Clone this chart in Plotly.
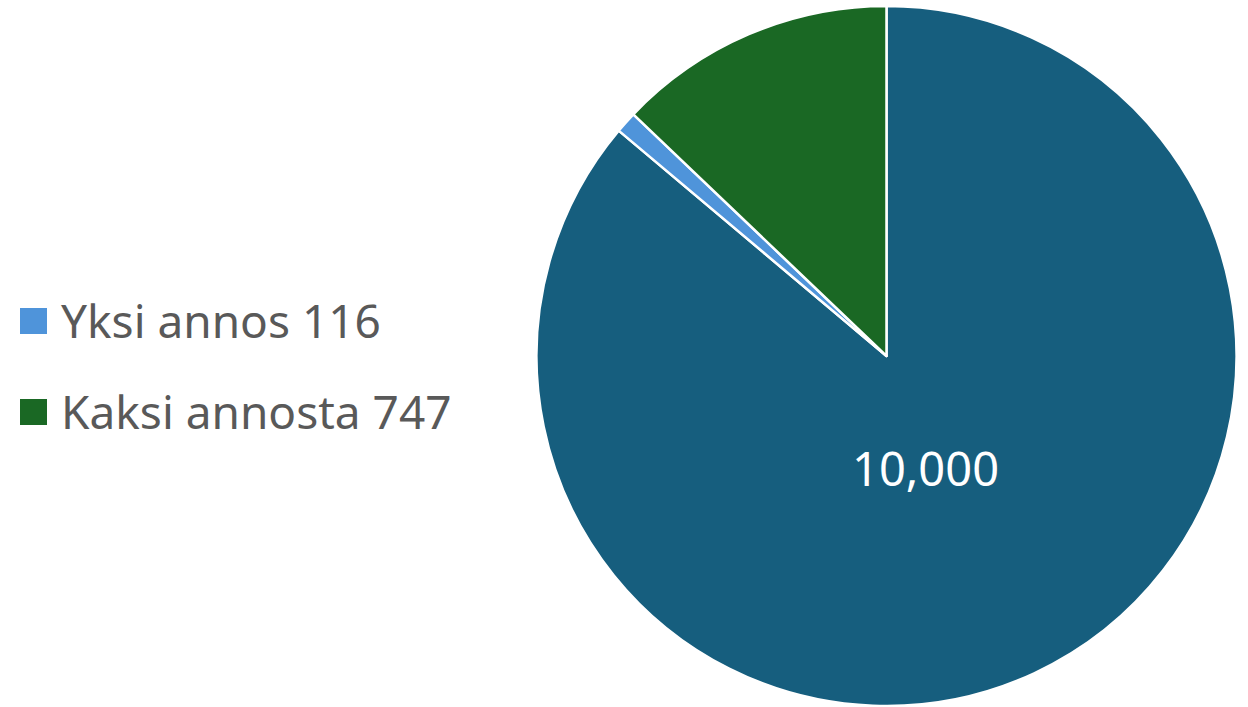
import plotly.graph_objects as go

# Slice data (clockwise from 12 o'clock)
labels = ["Rokotetut yhteensä", "Yksi annos 116", "Kaksi annosta 747"]
values = [10000, 116, 1494]
colors = ["#165E7E", "#4F94DA", "#1A6824"]

# Entries shown in the side legend
legend_labels = ["Yksi annos 116", "Kaksi annosta 747"]
legend_colors = ["#4F94DA", "#1A6824"]

W, H = 1248, 707
FONT = "Noto Sans"

fig = go.Figure(
    go.Pie(
        labels=labels,
        values=values,
        textinfo="none",
        marker=dict(colors=colors, line=dict(color="white", width=2.5)),
        sort=False,
        direction="clockwise",
        rotation=0,
        showlegend=False,
        hoverinfo="label+value",
        domain=dict(x=[536 / W, 1237 / W], y=[1 - 706 / H, 1 - 6 / H]),
    )
)

# Hand-built legend: colour square plus label
shapes, annotations = [], []
for i, (lab, col) in enumerate(zip(legend_labels, legend_colors)):
    yc = 321 + i * 91
    shapes.append(dict(
        type="rect", xref="paper", yref="paper",
        x0=20 / W, x1=47 / W, y0=1 - (yc + 13) / H, y1=1 - (yc - 13) / H,
        fillcolor=col, line=dict(width=0),
    ))
    annotations.append(dict(
        text=lab, xref="paper", yref="paper",
        x=59 / W, y=1 - (yc - 1) / H, xanchor="left", yanchor="middle",
        showarrow=False, font=dict(family=FONT, size=46, color="#595959"),
    ))

# Value label of the largest slice
annotations.append(dict(
    text=f"{values[0]:,}", xref="paper", yref="paper",
    x=925 / W, y=1 - 468 / H, xanchor="center", yanchor="middle",
    showarrow=False, font=dict(family=FONT, size=47, color="white"),
))

fig.update_layout(
    width=W, height=H,
    margin=dict(l=0, r=0, t=0, b=0),
    paper_bgcolor="white", plot_bgcolor="white",
    shapes=shapes, annotations=annotations,
)

fig.write_html("out.html")
